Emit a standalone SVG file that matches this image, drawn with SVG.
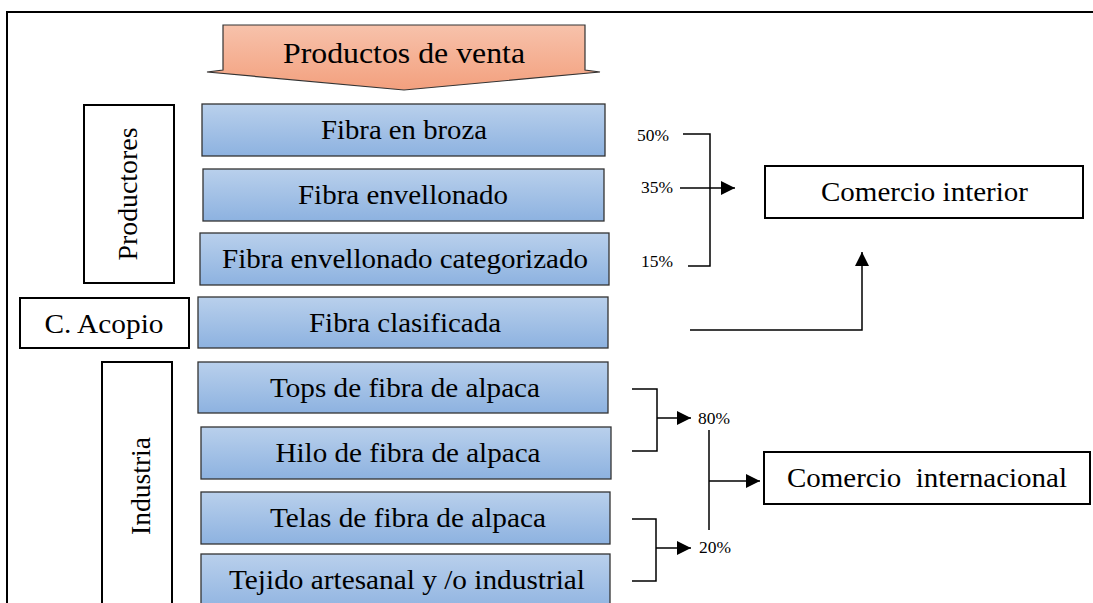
<svg xmlns="http://www.w3.org/2000/svg" width="1093" height="603" viewBox="0 0 1093 603">
<defs>
<linearGradient id="gb" x1="0" y1="0" x2="0" y2="1"><stop offset="0" stop-color="#b9d0ec"/><stop offset="1" stop-color="#8db2e0"/></linearGradient>
<linearGradient id="go" x1="0" y1="0" x2="0" y2="1"><stop offset="0" stop-color="#f7c2ab"/><stop offset="1" stop-color="#f3a07e"/></linearGradient>
<marker id="ahL" viewBox="0 0 10 10" refX="10" refY="5" markerWidth="14" markerHeight="14" markerUnits="userSpaceOnUse" orient="auto"><path d="M0,0 L10,5 L0,10 z" fill="#000"/></marker>
</defs>
<style>
.t{font-family:"Liberation Serif","Times New Roman",serif;fill:#000}
.b{fill:url(#gb);stroke:#333;stroke-width:1.3}
.w{fill:#fff;stroke:#000;stroke-width:2}
.ln{fill:none;stroke:#000;stroke-width:1.5}
.bt{font-size:27px;text-anchor:middle}
.p{font-size:16px}
</style>
<rect width="1093" height="603" fill="#fff"/>
<path d="M7,603 V12 H1093" fill="none" stroke="#000" stroke-width="2"/>
<g id="productos">
<path d="M223,25 H585 V70 L600,72 L404,90 L207,72 L223,70 Z" fill="url(#go)" stroke="#333" stroke-width="1.2"/>
<text class="t" x="404" y="63" font-size="29" text-anchor="middle" textLength="242" lengthAdjust="spacingAndGlyphs">Productos de venta</text>
</g>
<g id="productores"><rect class="w" x="84" y="105" width="90" height="178"/><text class="t" font-size="27" text-anchor="middle" textLength="133" lengthAdjust="spacingAndGlyphs" transform="translate(137,194) rotate(-90)">Productores</text></g>
<g id="acopio"><rect class="w" x="20" y="298" width="169" height="50"/><text class="t" font-size="27" x="104" y="333" text-anchor="middle" textLength="119" lengthAdjust="spacingAndGlyphs">C. Acopio</text></g>
<g id="industria"><rect class="w" x="102" y="362" width="70" height="250"/><text class="t" font-size="27" text-anchor="middle" textLength="98" lengthAdjust="spacingAndGlyphs" transform="translate(150,486) rotate(-90)">Industria</text></g>
<g id="broza"><rect class="b" x="202" y="104" width="403" height="52"/><text class="t bt" x="404" y="139" textLength="166" lengthAdjust="spacingAndGlyphs">Fibra en broza</text></g>
<g id="envellonado"><rect class="b" x="203" y="169" width="401" height="52"/><text class="t bt" x="403" y="204" textLength="210" lengthAdjust="spacingAndGlyphs">Fibra envellonado</text></g>
<g id="categorizado"><rect class="b" x="200" y="233" width="409" height="52"/><text class="t bt" x="405" y="268" textLength="366" lengthAdjust="spacingAndGlyphs">Fibra envellonado categorizado</text></g>
<g id="clasificada"><rect class="b" x="198" y="297" width="410" height="51"/><text class="t bt" x="405" y="332" textLength="192" lengthAdjust="spacingAndGlyphs">Fibra clasificada</text></g>
<g id="tops"><rect class="b" x="198" y="362" width="410" height="51"/><text class="t bt" x="405" y="397" textLength="270" lengthAdjust="spacingAndGlyphs">Tops de fibra de alpaca</text></g>
<g id="hilo"><rect class="b" x="201" y="427" width="410" height="52"/><text class="t bt" x="408" y="462" textLength="265" lengthAdjust="spacingAndGlyphs">Hilo de fibra de alpaca</text></g>
<g id="telas"><rect class="b" x="201" y="492" width="409" height="52"/><text class="t bt" x="408" y="527" textLength="276" lengthAdjust="spacingAndGlyphs">Telas de fibra de alpaca</text></g>
<g id="tejido"><rect class="b" x="201" y="554" width="409" height="60"/><text class="t bt" x="407" y="589" textLength="356" lengthAdjust="spacingAndGlyphs">Tejido artesanal y /o industrial</text></g>
<g id="interior"><rect class="w" x="765" y="166" width="318" height="52"/><text class="t" font-size="27" x="924.5" y="201" text-anchor="middle" textLength="207" lengthAdjust="spacingAndGlyphs">Comercio interior</text></g>
<g id="internacional"><rect class="w" x="764" y="452" width="326" height="52"/><text class="t" font-size="27" x="927" y="487" text-anchor="middle" textLength="280" lengthAdjust="spacingAndGlyphs" xml:space="preserve">Comercio  internacional</text></g>
<g id="labels">
<text class="t p" x="637" y="141" textLength="32" lengthAdjust="spacingAndGlyphs">50%</text>
<text class="t p" x="641" y="193" textLength="32" lengthAdjust="spacingAndGlyphs">35%</text>
<text class="t p" x="641" y="267" textLength="32" lengthAdjust="spacingAndGlyphs">15%</text>
<text class="t p" x="698" y="424" textLength="32" lengthAdjust="spacingAndGlyphs">80%</text>
<text class="t p" x="699" y="553" textLength="32" lengthAdjust="spacingAndGlyphs">20%</text>
</g>
<g id="connectors">
<path class="ln" d="M683,134 H710 V266 H688"/>
<path class="ln" d="M680,188 H735" marker-end="url(#ahL)"/>
<path class="ln" d="M690,330 H862 V252" marker-end="url(#ahL)"/>
<path class="ln" d="M632,389 H657 V451 H632"/>
<path class="ln" d="M657,418 H691" marker-end="url(#ahL)"/>
<path class="ln" d="M632,519 H656 V581 H632"/>
<path class="ln" d="M656,548 H691" marker-end="url(#ahL)"/>
<path class="ln" d="M709,430 V530"/>
<path class="ln" d="M709,481 H760" marker-end="url(#ahL)"/>
</g>
</svg>
